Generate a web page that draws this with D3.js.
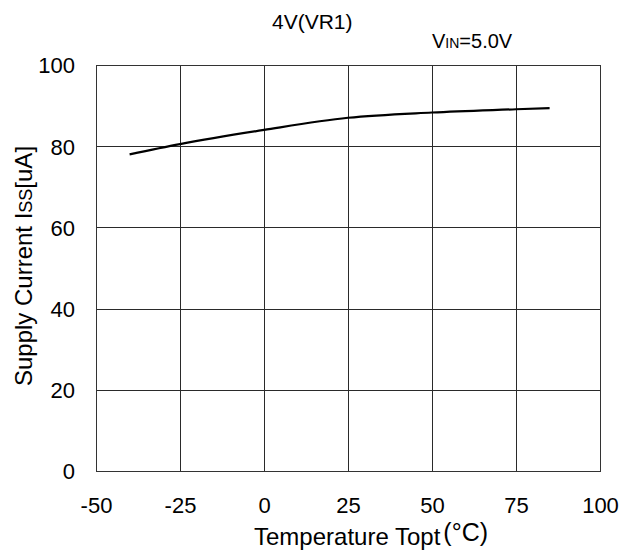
<!DOCTYPE html>
<html><head><meta charset="utf-8">
<script src="https://cdn.jsdelivr.net/npm/d3@7"></script>
<style>body{margin:0;background:#fff}svg{display:block}text{font-family:"Liberation Sans",Arial,sans-serif;fill:#000}</style>
</head><body>
<script>
const temps = [-40, -25, 0, 25, 50, 75, 85];
const current = [78.0, 80.5, 84.0, 87.0, 88.3, 89.1, 89.4];
const xTicks = [-50, -25, 0, 25, 50, 75, 100];
const yTicks = [0, 20, 40, 60, 80, 100];

const W = 623, H = 551;
const FONT = '"Liberation Sans",Arial,sans-serif';
const svg = d3.select("body").append("svg").attr("width", W).attr("height", H);
const L = 96, R = 600, T = 65, B = 471;
const x = d3.scaleLinear().domain([-50, 100]).range([L, R]);
const y = d3.scaleLinear().domain([0, 100]).range([B, T]);

const g = svg.append("g");
g.selectAll(".vg").data(xTicks).join("line")
  .attr("x1", d => Math.round(x(d)) + 0.5).attr("x2", d => Math.round(x(d)) + 0.5)
  .attr("y1", T).attr("y2", B).attr("stroke", "#2a2a2a").attr("stroke-width", 1);
g.selectAll(".hg").data(yTicks).join("line")
  .attr("y1", d => Math.round(y(d)) + 0.5).attr("y2", d => Math.round(y(d)) + 0.5)
  .attr("x1", L).attr("x2", R).attr("stroke", "#2a2a2a").attr("stroke-width", 1);
g.append("rect").attr("x", L + 0.5).attr("y", T + 0.5).attr("width", R - L).attr("height", B - T)
  .attr("fill", "none").attr("stroke", "#333");

const xAxis = d3.axisBottom(x).tickValues(xTicks).tickFormat(d => String(d)).tickSize(0).tickPadding(0);
const gx = svg.append("g").attr("transform", `translate(0,${B})`).call(xAxis);
gx.select(".domain").remove();
gx.selectAll("text").attr("y", 0).attr("dy", 0).attr("transform", "translate(0,42)")
  .style("font-size", "22px").style("font-family", FONT);

const yAxis = d3.axisLeft(y).tickValues(yTicks).tickFormat(d => String(d)).tickSize(0).tickPadding(0);
const gy = svg.append("g").attr("transform", `translate(${L - 21},0)`).call(yAxis);
gy.select(".domain").remove();
gy.selectAll("text").attr("dy", "0.36em")
  .style("font-size", "22px").style("font-family", FONT);

const line = d3.line().x((d, i) => x(temps[i])).y(d => y(d)).curve(d3.curveMonotoneX);
svg.append("path").datum(current).attr("d", line)
  .attr("fill", "none").attr("stroke", "#000").attr("stroke-width", 2.2);

// axis titles
const xt = svg.append("text").attr("x", 254).attr("y", 545).style("font-size", "24px");
xt.append("tspan").text("Temperature Topt");
xt.append("tspan").attr("dx", 3).attr("dy", -4).style("font-size", "25px").text("(°C)");

const yt = svg.append("text").attr("transform", "translate(32,266) rotate(-90)")
  .attr("text-anchor", "middle").style("font-size", "24px");
yt.append("tspan").text("Supply Current I");
yt.append("tspan").style("font-size", "18px").text("SS");
yt.append("tspan").text("[uA]");

svg.append("text").attr("x", 272).attr("y", 29).style("font-size", "21px").text("4V(VR1)");
const vt = svg.append("text").attr("x", 432).attr("y", 48).style("font-size", "20px");
vt.append("tspan").text("V");
vt.append("tspan").style("font-size", "14px").text("IN");
vt.append("tspan").text("=5.0V");
</script>
</body></html>
